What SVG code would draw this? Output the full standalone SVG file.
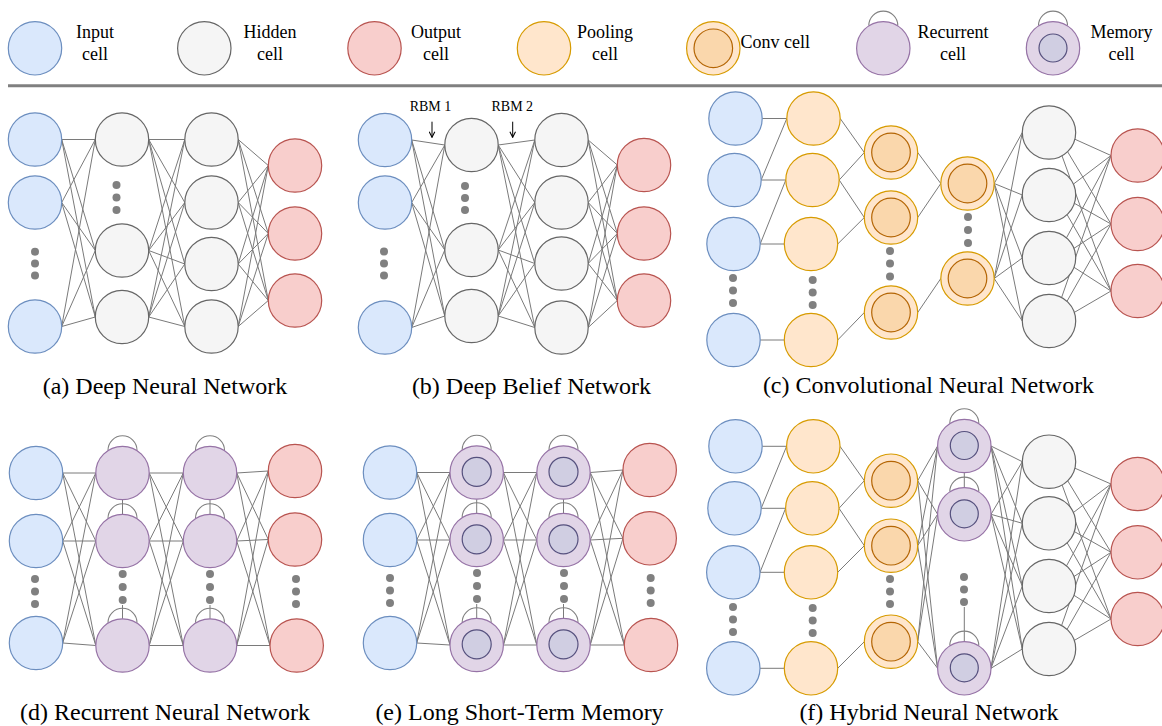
<svg xmlns="http://www.w3.org/2000/svg" width="1162" height="726" viewBox="0 0 1162 726">
<style>
.in{fill:#dae8fc;stroke:#6c8ebf}
.hd{fill:#f5f5f5;stroke:#666666}
.out{fill:#f8cecc;stroke:#b85450}
.pl{fill:#ffe6cc;stroke:#d79b00}
.cv{fill:#fad7ac;stroke:#b46504}
.rc{fill:#e1d5e7;stroke:#9673a6}
.mm{fill:#d0cee2;stroke:#56517e}
circle{stroke-width:1.2}
.dot{fill:#808080;stroke:none}
.e{fill:none;stroke:#7a7a7a;stroke-width:1}
.lp{fill:none;stroke:#808080;stroke-width:1.1}
text{font-family:"Liberation Serif","Times New Roman",serif;fill:#000}
.lg{font-size:18px;text-anchor:middle}
.cap{font-size:24px;text-anchor:middle}
.rbm{font-size:14px;text-anchor:middle}
</style>
<defs>
<marker id="arr" viewBox="0 0 10 10" refX="9" refY="5" markerWidth="7" markerHeight="7" orient="auto">
<path d="M1 1L9 5L1 9" fill="none" stroke="#000" stroke-width="1.5"/>
</marker>
</defs>
<rect width="1162" height="726" fill="#fff"/>

<!-- Legend -->
<g id="legend">
<g id="lg-input"><circle cx="35" cy="48.3" r="26.7" class="in"/><text class="lg" x="95" y="37.5">Input</text><text class="lg" x="95" y="60">cell</text></g>
<g id="lg-hidden"><circle cx="204.3" cy="48.3" r="26.7" class="hd"/><text class="lg" x="270" y="37.5">Hidden</text><text class="lg" x="270" y="60">cell</text></g>
<g id="lg-output"><circle cx="374.5" cy="48.3" r="26.7" class="out"/><text class="lg" x="436" y="37.5">Output</text><text class="lg" x="436" y="60">cell</text></g>
<g id="lg-pool"><circle cx="544" cy="48.3" r="26.7" class="pl"/><text class="lg" x="605" y="37.5">Pooling</text><text class="lg" x="605" y="60">cell</text></g>
<g id="lg-conv"><circle cx="713.3" cy="48.3" r="26.7" class="pl"/><circle cx="713.3" cy="48.3" r="19.3" class="cv"/><text x="740.5" y="47.5" style="font-size:18px">Conv cell</text></g>
<g id="lg-rec"><path class="lp" d="M868.8 25.6A14.5 14.5 0 0 1 897.8 25.6"/><circle cx="883.3" cy="48.3" r="26.7" class="rc"/><text class="lg" x="953" y="37.5">Recurrent</text><text class="lg" x="953" y="60">cell</text></g>
<g id="lg-mem"><path class="lp" d="M1038.5 25.6A14.5 14.5 0 0 1 1067.5 25.6"/><circle cx="1053" cy="48.3" r="26.7" class="rc"/><circle cx="1053" cy="48" r="14" class="mm"/><text class="lg" x="1121.5" y="37.5">Memory</text><text class="lg" x="1121.5" y="60">cell</text></g>
<line x1="8" y1="85.8" x2="1162" y2="85.8" stroke="#808080" stroke-width="3"/>
</g>

<!-- Connectors -->
<g id="connectors" class="e">
<!-- (a) -->
<path d="M61.7 139.5L95.3 139.5M61.7 139.5L95.3 250.5M61.7 139.5L95.3 317M61.7 202.5L95.3 139.5M61.7 202.5L95.3 250.5M61.7 202.5L95.3 317M61.7 326.5L95.3 139.5M61.7 326.5L95.3 250.5M61.7 326.5L95.3 317"/>
<path d="M148.7 139.5L184.8 139.5M148.7 139.5L184.8 202.5M148.7 139.5L184.8 264M148.7 139.5L184.8 326.5M148.7 250.5L184.8 139.5M148.7 250.5L184.8 202.5M148.7 250.5L184.8 264M148.7 250.5L184.8 326.5M148.7 317L184.8 139.5M148.7 317L184.8 202.5M148.7 317L184.8 264M148.7 317L184.8 326.5"/>
<path d="M238.2 139.5L268.3 165.5M238.2 139.5L268.3 233.5M238.2 139.5L268.3 300.5M238.2 202.5L268.3 165.5M238.2 202.5L268.3 233.5M238.2 202.5L268.3 300.5M238.2 264L268.3 165.5M238.2 264L268.3 233.5M238.2 264L268.3 300.5M238.2 326.5L268.3 165.5M238.2 326.5L268.3 233.5M238.2 326.5L268.3 300.5"/>
<!-- (b) -->
<path d="M411.7 140L444.8 145M411.7 140L444.8 250M411.7 140L444.8 316M411.7 202.5L444.8 145M411.7 202.5L444.8 250M411.7 202.5L444.8 316M411.7 327.5L444.8 145M411.7 327.5L444.8 250M411.7 327.5L444.8 316"/>
<path d="M498.2 145L534.8 140M498.2 145L534.8 202.5M498.2 145L534.8 263.5M498.2 145L534.8 327.5M498.2 250L534.8 140M498.2 250L534.8 202.5M498.2 250L534.8 263.5M498.2 250L534.8 327.5M498.2 316L534.8 140M498.2 316L534.8 202.5M498.2 316L534.8 263.5M498.2 316L534.8 327.5"/>
<path d="M588.2 140L617.3 165M588.2 140L617.3 233.5M588.2 140L617.3 300.5M588.2 202.5L617.3 165M588.2 202.5L617.3 233.5M588.2 202.5L617.3 300.5M588.2 263.5L617.3 165M588.2 263.5L617.3 233.5M588.2 263.5L617.3 300.5M588.2 327.5L617.3 165M588.2 327.5L617.3 233.5M588.2 327.5L617.3 300.5"/>
<!-- (c) -->
<path d="M762.2 118.5L786.8 118.5M761.2 180L786.8 118.5M761.2 180L785.8 180M760.2 244L785.8 180M760.2 244L784.3 244M760.2 340L784.3 340"/>
<path d="M840.2 118.5L864.3 152.5M839.2 180L864.3 152.5M839.2 180L864.3 217.5M837.7 244L864.3 217.5M837.7 340L864.3 312.5"/>
<path d="M917.7 152.5L940.8 183.5M917.7 217.5L940.8 183.5M917.7 312.5L940.8 278.5"/>
<path d="M994.2 183.5L1022.3 132.5M994.2 183.5L1022.3 195M994.2 183.5L1022.3 258M994.2 183.5L1022.3 321M994.2 278.5L1022.3 132.5M994.2 278.5L1022.3 195M994.2 278.5L1022.3 258M994.2 278.5L1022.3 321"/>
<path d="M1074.8 139.2L1111 155.5M1067.6 151.7L1111 224M1062 155.8L1111 291M1073.4 184.1L1111 155.5M1074.4 203.3L1111 224M1067.1 214.6L1111 291M1066.5 237.8L1111 155.5M1073.9 248.4L1111 224M1074 267.3L1111 291M1061.6 297.5L1111 155.5M1067 301.3L1111 224M1074.3 312.4L1111 291"/>
<!-- (d) -->
<path d="M62.7 473L95.8 473M62.7 473L95.8 541M62.7 473L95.8 645.5M62.7 541L95.8 473M62.7 541L95.8 541M62.7 541L95.8 645.5M62.7 643L95.8 473M62.7 643L95.8 541M62.7 643L95.8 645.5"/>
<path d="M149.2 473L183.3 473M149.2 473L183.3 541M149.2 473L183.3 645.5M149.2 541L183.3 473M149.2 541L183.3 541M149.2 541L183.3 645.5M149.2 645.5L183.3 473M149.2 645.5L183.3 541M149.2 645.5L183.3 645.5"/>
<path d="M236.7 473L268.3 471M236.7 473L268.3 539.5M236.7 473L270 645.5M236.7 541L268.3 471M236.7 541L268.3 539.5M236.7 541L270 645.5M236.7 645.5L268.3 471M236.7 645.5L268.3 539.5M236.7 645.5L270 645.5"/>
<path d="M122.5 499.7L122.5 514.3M122.5 605L122.5 618.8M210 499.7L210 514.3M210 605L210 618.8"/>
<!-- (e) -->
<path d="M416.7 472.5L450 472.5M416.7 472.5L450 540M416.7 472.5L450 645M416.7 540L450 472.5M416.7 540L450 540M416.7 540L450 645M416.7 643L450 472.5M416.7 643L450 540M416.7 643L450 645"/>
<path d="M503.4 472.5L536.8 472.5M503.4 472.5L536.8 540M503.4 472.5L536.8 645M503.4 540L536.8 472.5M503.4 540L536.8 540M503.4 540L536.8 645M503.4 645L536.8 472.5M503.4 645L536.8 540M503.4 645L536.8 645"/>
<path d="M590.2 472.5L623 470M590.2 472.5L623 538.3M590.2 472.5L624.3 645M590.2 540L623 470M590.2 540L623 538.3M590.2 540L624.3 645M590.2 645L623 470M590.2 645L623 538.3M590.2 645L624.3 645"/>
<path d="M476.7 499.2L476.7 513.3M476.7 604L476.7 618.3M563.5 499.2L563.5 513.3M563.5 604L563.5 618.3"/>
<!-- (f) -->
<path d="M762.2 446.3L786.6 446.3M761.2 508.3L786.6 446.3M761.2 508.3L785.6 508.3M760 572.3L785.6 508.3M760 572.3L784.3 572.3M760 668.3L784.3 668.3"/>
<path d="M840 446.3L864.3 480.7M839 508.3L864.3 480.7M839 508.3L864.3 545.7M837.7 572.3L864.3 545.7M837.7 668.3L864.3 641.7"/>
<path d="M917.7 480.7L937.6 446M917.7 480.7L937.6 514.3M917.7 480.7L937.6 668.3M917.7 545.7L937.6 446M917.7 545.7L937.6 514.3M917.7 545.7L937.6 668.3M917.7 641.7L937.6 446M917.7 641.7L937.6 514.3M917.7 641.7L937.6 668.3"/>
<path d="M991 446L1022.3 461.7M991 446L1022.3 523.3M991 446L1022.3 586M991 446L1022.3 649M991 514.3L1022.3 461.7M991 514.3L1022.3 523.3M991 514.3L1022.3 586M991 514.3L1022.3 649M991 668.3L1022.3 461.7M991 668.3L1022.3 523.3M991 668.3L1022.3 586M991 668.3L1022.3 649"/>
<path d="M1074.9 468.2L1111 484M1067.7 480.8L1111 552.3M1062.1 484.9L1111 619M1073.4 512.5L1111 484M1074.4 531.6L1111 552.3M1067.2 542.9L1111 619M1066.5 565.9L1111 484M1074 576.5L1111 552.3M1074 595.3L1111 619M1061.6 625.5L1111 484M1067.1 629.3L1111 552.3M1074.3 640.4L1111 619"/>
<path d="M964.3 472.7L964.3 487.6M964.3 607L964.3 641.6"/>
<!-- RBM arrows -->
<path d="M432 121.7L432 137.3" stroke="#000" marker-end="url(#arr)"/>
<path d="M512.7 121.7L512.7 137.3" stroke="#000" marker-end="url(#arr)"/>
</g>

<!-- (a) Deep Neural Network -->
<g id="a-in1"><circle cx="35" cy="139.5" r="26.7" class="in"/></g>
<g id="a-in2"><circle cx="35" cy="202.5" r="26.7" class="in"/></g>
<g id="a-in3"><circle cx="35" cy="326.5" r="26.7" class="in"/></g>
<g id="a-h1a"><circle cx="122" cy="139.5" r="26.7" class="hd"/></g>
<g id="a-h1b"><circle cx="122" cy="250.5" r="26.7" class="hd"/></g>
<g id="a-h1c"><circle cx="122" cy="317" r="26.7" class="hd"/></g>
<g id="a-h2a"><circle cx="211.5" cy="139.5" r="26.7" class="hd"/></g>
<g id="a-h2b"><circle cx="211.5" cy="202.5" r="26.7" class="hd"/></g>
<g id="a-h2c"><circle cx="211.5" cy="264" r="26.7" class="hd"/></g>
<g id="a-h2d"><circle cx="211.5" cy="326.5" r="26.7" class="hd"/></g>
<g id="a-o1"><circle cx="295" cy="165.5" r="26.7" class="out"/></g>
<g id="a-o2"><circle cx="295" cy="233.5" r="26.7" class="out"/></g>
<g id="a-o3"><circle cx="295" cy="300.5" r="26.7" class="out"/></g>
<g id="a-dots" class="dot"><circle cx="35" cy="251.7" r="4"/><circle cx="35" cy="263.5" r="4"/><circle cx="35" cy="275.5" r="4"/><circle cx="116.5" cy="185" r="4"/><circle cx="116.5" cy="197.5" r="4"/><circle cx="116.5" cy="210" r="4"/></g>
<text class="cap" x="165" y="394">(a) Deep Neural Network</text>

<!-- (b) Deep Belief Network -->
<g id="b-in1"><circle cx="385" cy="140" r="26.7" class="in"/></g>
<g id="b-in2"><circle cx="385" cy="202.5" r="26.7" class="in"/></g>
<g id="b-in3"><circle cx="385" cy="327.5" r="26.7" class="in"/></g>
<g id="b-h1a"><circle cx="471.5" cy="145" r="26.7" class="hd"/></g>
<g id="b-h1b"><circle cx="471.5" cy="250" r="26.7" class="hd"/></g>
<g id="b-h1c"><circle cx="471.5" cy="316" r="26.7" class="hd"/></g>
<g id="b-h2a"><circle cx="561.5" cy="140" r="26.7" class="hd"/></g>
<g id="b-h2b"><circle cx="561.5" cy="202.5" r="26.7" class="hd"/></g>
<g id="b-h2c"><circle cx="561.5" cy="263.5" r="26.7" class="hd"/></g>
<g id="b-h2d"><circle cx="561.5" cy="327.5" r="26.7" class="hd"/></g>
<g id="b-o1"><circle cx="644" cy="165" r="26.7" class="out"/></g>
<g id="b-o2"><circle cx="644" cy="233.5" r="26.7" class="out"/></g>
<g id="b-o3"><circle cx="644" cy="300.5" r="26.7" class="out"/></g>
<g id="b-dots" class="dot"><circle cx="384" cy="251.5" r="4"/><circle cx="384" cy="263.5" r="4"/><circle cx="384" cy="275.5" r="4"/><circle cx="465" cy="186" r="4"/><circle cx="465" cy="198" r="4"/><circle cx="465" cy="210" r="4"/></g>
<g id="b-rbm1"><text class="rbm" x="430.5" y="111">RBM 1</text></g>
<g id="b-rbm2"><text class="rbm" x="512.3" y="111">RBM 2</text></g>
<text class="cap" x="531.5" y="394">(b) Deep Belief Network</text>

<!-- (c) Convolutional Neural Network -->
<g id="c-in1"><circle cx="735.5" cy="118.5" r="26.7" class="in"/></g>
<g id="c-in2"><circle cx="734.5" cy="180" r="26.7" class="in"/></g>
<g id="c-in3"><circle cx="733.5" cy="244" r="26.7" class="in"/></g>
<g id="c-in4"><circle cx="733.5" cy="340" r="26.7" class="in"/></g>
<g id="c-p1"><circle cx="813.5" cy="118.5" r="26.7" class="pl"/></g>
<g id="c-p2"><circle cx="812.5" cy="180" r="26.7" class="pl"/></g>
<g id="c-p3"><circle cx="811" cy="244" r="26.7" class="pl"/></g>
<g id="c-p4"><circle cx="811" cy="340" r="26.7" class="pl"/></g>
<g id="c-c1a"><circle cx="891" cy="152.5" r="26.7" class="pl"/><circle cx="891" cy="152.5" r="19.3" class="cv"/></g>
<g id="c-c1b"><circle cx="891" cy="217.5" r="26.7" class="pl"/><circle cx="891" cy="217.5" r="19.3" class="cv"/></g>
<g id="c-c1c"><circle cx="891" cy="312.5" r="26.7" class="pl"/><circle cx="891" cy="312.5" r="19.3" class="cv"/></g>
<g id="c-c2a"><circle cx="967.5" cy="183.5" r="26.7" class="pl"/><circle cx="967.5" cy="183.5" r="19.3" class="cv"/></g>
<g id="c-c2b"><circle cx="967.5" cy="278.5" r="26.7" class="pl"/><circle cx="967.5" cy="278.5" r="19.3" class="cv"/></g>
<g id="c-h1"><circle cx="1049" cy="132.5" r="26.7" class="hd"/></g>
<g id="c-h2"><circle cx="1049" cy="195" r="26.7" class="hd"/></g>
<g id="c-h3"><circle cx="1049" cy="258" r="26.7" class="hd"/></g>
<g id="c-h4"><circle cx="1049" cy="321" r="26.7" class="hd"/></g>
<g id="c-o1"><circle cx="1137.7" cy="155.5" r="26.7" class="out"/></g>
<g id="c-o2"><circle cx="1137.7" cy="224" r="26.7" class="out"/></g>
<g id="c-o3"><circle cx="1137.7" cy="291" r="26.7" class="out"/></g>
<g id="c-dots" class="dot"><circle cx="733" cy="278" r="4"/><circle cx="733" cy="290.5" r="4"/><circle cx="733" cy="303" r="4"/><circle cx="812.7" cy="280" r="4"/><circle cx="812.7" cy="292.5" r="4"/><circle cx="812.7" cy="305" r="4"/><circle cx="890" cy="251" r="4"/><circle cx="890" cy="263.5" r="4"/><circle cx="890" cy="276.5" r="4"/><circle cx="968" cy="217" r="4"/><circle cx="968" cy="230" r="4"/><circle cx="968" cy="243" r="4"/></g>
<text class="cap" x="928.5" y="393">(c) Convolutional Neural Network</text>

<!-- (d) Recurrent Neural Network -->
<g id="d-in1"><circle cx="36" cy="473" r="26.7" class="in"/></g>
<g id="d-in2"><circle cx="36" cy="541" r="26.7" class="in"/></g>
<g id="d-in3"><circle cx="36" cy="643" r="26.7" class="in"/></g>
<g id="d-r1a"><path class="lp" d="M108 450.3A14.5 14.5 0 0 1 137 450.3"/><circle cx="122.5" cy="473" r="26.7" class="rc"/></g>
<g id="d-r1b"><path class="lp" d="M108 518.3A14.5 14.5 0 0 1 137 518.3"/><circle cx="122.5" cy="541" r="26.7" class="rc"/></g>
<g id="d-r1c"><path class="lp" d="M108 622.8A14.5 14.5 0 0 1 137 622.8"/><circle cx="122.5" cy="645.5" r="26.7" class="rc"/></g>
<g id="d-r2a"><path class="lp" d="M195.5 450.3A14.5 14.5 0 0 1 224.5 450.3"/><circle cx="210" cy="473" r="26.7" class="rc"/></g>
<g id="d-r2b"><path class="lp" d="M195.5 518.3A14.5 14.5 0 0 1 224.5 518.3"/><circle cx="210" cy="541" r="26.7" class="rc"/></g>
<g id="d-r2c"><path class="lp" d="M195.5 622.8A14.5 14.5 0 0 1 224.5 622.8"/><circle cx="210" cy="645.5" r="26.7" class="rc"/></g>
<g id="d-o1"><circle cx="295" cy="471" r="26.7" class="out"/></g>
<g id="d-o2"><circle cx="295" cy="539.5" r="26.7" class="out"/></g>
<g id="d-o3"><circle cx="296.7" cy="645.5" r="26.7" class="out"/></g>
<g id="d-dots" class="dot"><circle cx="35" cy="579" r="4"/><circle cx="35" cy="591.5" r="4"/><circle cx="35" cy="604" r="4"/><circle cx="122.7" cy="574" r="4"/><circle cx="122.7" cy="587" r="4"/><circle cx="122.7" cy="600" r="4"/><circle cx="210" cy="574" r="4"/><circle cx="210" cy="587" r="4"/><circle cx="210" cy="600" r="4"/><circle cx="296" cy="579" r="4"/><circle cx="296" cy="591.5" r="4"/><circle cx="296" cy="604" r="4"/></g>
<text class="cap" x="165" y="720">(d) Recurrent Neural Network</text>

<!-- (e) Long Short-Term Memory -->
<g id="e-in1"><circle cx="390" cy="472.5" r="26.7" class="in"/></g>
<g id="e-in2"><circle cx="390" cy="540" r="26.7" class="in"/></g>
<g id="e-in3"><circle cx="390" cy="643" r="26.7" class="in"/></g>
<g id="e-m1a"><path class="lp" d="M462.2 449.8A14.5 14.5 0 0 1 491.2 449.8"/><circle cx="476.7" cy="472.5" r="26.7" class="rc"/><circle cx="476.7" cy="471.8" r="14.5" class="mm"/></g>
<g id="e-m1b"><path class="lp" d="M462.2 517.3A14.5 14.5 0 0 1 491.2 517.3"/><circle cx="476.7" cy="540" r="26.7" class="rc"/><circle cx="476.7" cy="539.3" r="14.5" class="mm"/></g>
<g id="e-m1c"><path class="lp" d="M462.2 622.3A14.5 14.5 0 0 1 491.2 622.3"/><circle cx="476.7" cy="645" r="26.7" class="rc"/><circle cx="476.7" cy="644.3" r="14.5" class="mm"/></g>
<g id="e-m2a"><path class="lp" d="M549 449.8A14.5 14.5 0 0 1 578 449.8"/><circle cx="563.5" cy="472.5" r="26.7" class="rc"/><circle cx="563.5" cy="471.8" r="14.5" class="mm"/></g>
<g id="e-m2b"><path class="lp" d="M549 517.3A14.5 14.5 0 0 1 578 517.3"/><circle cx="563.5" cy="540" r="26.7" class="rc"/><circle cx="563.5" cy="539.3" r="14.5" class="mm"/></g>
<g id="e-m2c"><path class="lp" d="M549 622.3A14.5 14.5 0 0 1 578 622.3"/><circle cx="563.5" cy="645" r="26.7" class="rc"/><circle cx="563.5" cy="644.3" r="14.5" class="mm"/></g>
<g id="e-o1"><circle cx="649.7" cy="470" r="26.7" class="out"/></g>
<g id="e-o2"><circle cx="649.7" cy="538.3" r="26.7" class="out"/></g>
<g id="e-o3"><circle cx="651" cy="645" r="26.7" class="out"/></g>
<g id="e-dots" class="dot"><circle cx="390" cy="578" r="4"/><circle cx="390" cy="590.5" r="4"/><circle cx="390" cy="603" r="4"/><circle cx="477" cy="573" r="4"/><circle cx="477" cy="586" r="4"/><circle cx="477" cy="599" r="4"/><circle cx="564" cy="573" r="4"/><circle cx="564" cy="586" r="4"/><circle cx="564" cy="599" r="4"/><circle cx="650.7" cy="578" r="4"/><circle cx="650.7" cy="590.5" r="4"/><circle cx="650.7" cy="603" r="4"/></g>
<text class="cap" x="519.5" y="720">(e) Long Short-Term Memory</text>

<!-- (f) Hybrid Neural Network -->
<g id="f-in1"><circle cx="735.5" cy="446.3" r="26.7" class="in"/></g>
<g id="f-in2"><circle cx="734.5" cy="508.3" r="26.7" class="in"/></g>
<g id="f-in3"><circle cx="733.3" cy="572.3" r="26.7" class="in"/></g>
<g id="f-in4"><circle cx="733.3" cy="668.3" r="26.7" class="in"/></g>
<g id="f-p1"><circle cx="813.3" cy="446.3" r="26.7" class="pl"/></g>
<g id="f-p2"><circle cx="812.3" cy="508.3" r="26.7" class="pl"/></g>
<g id="f-p3"><circle cx="811" cy="572.3" r="26.7" class="pl"/></g>
<g id="f-p4"><circle cx="811" cy="668.3" r="26.7" class="pl"/></g>
<g id="f-c1"><circle cx="891" cy="480.7" r="26.7" class="pl"/><circle cx="891" cy="480.7" r="19.3" class="cv"/></g>
<g id="f-c2"><circle cx="891" cy="545.7" r="26.7" class="pl"/><circle cx="891" cy="545.7" r="19.3" class="cv"/></g>
<g id="f-c3"><circle cx="891" cy="641.7" r="26.7" class="pl"/><circle cx="891" cy="641.7" r="19.3" class="cv"/></g>
<g id="f-m1"><path class="lp" d="M949.8 423.3A14.5 14.5 0 0 1 978.8 423.3"/><circle cx="964.3" cy="446" r="26.7" class="rc"/><circle cx="964.3" cy="445.5" r="14" class="mm"/></g>
<g id="f-m2"><path class="lp" d="M949.8 491.6A14.5 14.5 0 0 1 978.8 491.6"/><circle cx="964.3" cy="514.3" r="26.7" class="rc"/><circle cx="964.3" cy="513.8" r="14" class="mm"/></g>
<g id="f-m3"><path class="lp" d="M949.8 645.6A14.5 14.5 0 0 1 978.8 645.6"/><circle cx="964.3" cy="668.3" r="26.7" class="rc"/><circle cx="964.3" cy="667.8" r="14" class="mm"/></g>
<g id="f-h1"><circle cx="1049" cy="461.7" r="26.7" class="hd"/></g>
<g id="f-h2"><circle cx="1049" cy="523.3" r="26.7" class="hd"/></g>
<g id="f-h3"><circle cx="1049" cy="586" r="26.7" class="hd"/></g>
<g id="f-h4"><circle cx="1049" cy="649" r="26.7" class="hd"/></g>
<g id="f-o1"><circle cx="1137.7" cy="484" r="26.7" class="out"/></g>
<g id="f-o2"><circle cx="1137.7" cy="552.3" r="26.7" class="out"/></g>
<g id="f-o3"><circle cx="1137.7" cy="619" r="26.7" class="out"/></g>
<g id="f-dots" class="dot"><circle cx="733" cy="607" r="4"/><circle cx="733" cy="619.5" r="4"/><circle cx="733" cy="632" r="4"/><circle cx="812.7" cy="608" r="4"/><circle cx="812.7" cy="620.5" r="4"/><circle cx="812.7" cy="633" r="4"/><circle cx="890" cy="579" r="4"/><circle cx="890" cy="591.5" r="4"/><circle cx="890" cy="604" r="4"/><circle cx="964" cy="577" r="4"/><circle cx="964" cy="589.5" r="4"/><circle cx="964" cy="602" r="4"/></g>
<text class="cap" x="929" y="720">(f) Hybrid Neural Network</text>
</svg>
